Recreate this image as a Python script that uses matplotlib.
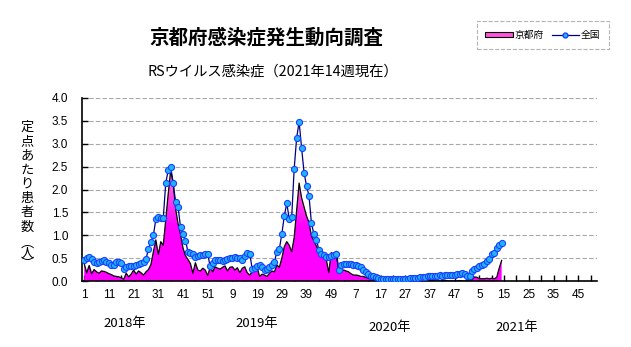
import matplotlib
matplotlib.use('Agg')
import matplotlib.pyplot as plt
import numpy as np
from matplotlib import font_manager
from matplotlib.patches import Patch
from matplotlib.lines import Line2D
from matplotlib.colors import LinearSegmentedColormap

plt.rcParams['font.family'] = ['Noto Sans CJK JP', 'DejaVu Sans']

# narrow font for the numbers if we have one
names = {f.name for f in font_manager.fontManager.ttflist}
num_font = 'Liberation Sans Narrow' if 'Liberation Sans Narrow' in names else 'Liberation Sans'

# weekly values per sentinel (定点あたり), 2018 wk1 .. 2021 wk14
national_2018 = [0.46, 0.50, 0.52, 0.47, 0.42, 0.39, 0.42, 0.44, 0.46, 0.42,
                 0.39, 0.36, 0.35, 0.41, 0.42, 0.40, 0.26, 0.30, 0.32, 0.33,
                 0.33, 0.35, 0.37, 0.39, 0.42, 0.47, 0.71, 0.85, 1.00, 1.35,
                 1.40, 1.38, 1.37, 2.14, 2.42, 2.50, 2.14, 1.73, 1.62, 1.17,
                 1.02, 0.88, 0.64, 0.62, 0.60, 0.52, 0.55, 0.57, 0.57, 0.58,
                 0.58, 0.32]
national_2019 = [0.40, 0.45, 0.45, 0.45, 0.44, 0.46, 0.48, 0.50, 0.51, 0.52,
                 0.51, 0.50, 0.45, 0.55, 0.62, 0.60, 0.27, 0.29, 0.33, 0.34,
                 0.30, 0.25, 0.27, 0.31, 0.36, 0.42, 0.64, 0.70, 1.03, 1.42,
                 1.70, 1.36, 1.40, 2.45, 3.13, 3.48, 2.91, 2.37, 2.08, 1.86,
                 1.26, 1.02, 0.90, 0.68, 0.60, 0.57, 0.53, 0.53, 0.55, 0.57,
                 0.58, 0.24]
national_2020 = [0.35, 0.37, 0.38, 0.38, 0.37, 0.36, 0.35, 0.33, 0.30, 0.25,
                 0.20, 0.15, 0.12, 0.10, 0.08, 0.06, 0.04, 0.05, 0.04, 0.04,
                 0.04, 0.04, 0.05, 0.04, 0.05, 0.05, 0.05, 0.05, 0.06, 0.06,
                 0.07, 0.07, 0.08, 0.08, 0.09, 0.10, 0.10, 0.11, 0.10, 0.12,
                 0.13, 0.12, 0.13, 0.13, 0.14, 0.13, 0.14, 0.15, 0.15, 0.17,
                 0.16, 0.10]
national_2021 = [0.12, 0.22, 0.26, 0.29, 0.32, 0.35, 0.38, 0.44, 0.48, 0.58,
                 0.62, 0.72, 0.78, 0.84]

kyoto_2018 = [0.38, 0.18, 0.34, 0.16, 0.25, 0.20, 0.17, 0.22, 0.21, 0.19,
              0.16, 0.14, 0.11, 0.10, 0.09, 0.07, 0.04, 0.17, 0.09, 0.15,
              0.24, 0.15, 0.22, 0.18, 0.13, 0.20, 0.25, 0.36, 0.64, 0.90,
              0.58, 0.86, 0.78, 1.35, 1.90, 2.42, 2.15, 1.58, 1.25, 1.02,
              0.72, 0.55, 0.47, 0.38, 0.17, 0.40, 0.24, 0.22, 0.28, 0.24,
              0.12, 0.30]
kyoto_2019 = [0.20, 0.31, 0.28, 0.26, 0.30, 0.33, 0.22, 0.30, 0.31, 0.24,
              0.29, 0.18, 0.28, 0.31, 0.18, 0.13, 0.20, 0.24, 0.30, 0.10,
              0.15, 0.13, 0.10, 0.17, 0.22, 0.20, 0.35, 0.30, 0.50, 0.75,
              0.86, 0.78, 0.64, 0.95, 1.55, 2.14, 1.82, 1.62, 1.42, 1.28,
              0.98, 0.88, 0.76, 0.68, 0.58, 0.53, 0.48, 0.18, 0.62, 0.58,
              0.65, 0.28]
kyoto_2020 = [0.20, 0.24, 0.22, 0.20, 0.16, 0.13, 0.13, 0.12, 0.10, 0.10,
              0.08, 0.06, 0.04, 0.03, 0.01, 0.00, 0.00, 0.00, 0.00, 0.00,
              0.00, 0.00, 0.00, 0.00, 0.00, 0.00, 0.00, 0.00, 0.00, 0.00,
              0.00, 0.00, 0.00, 0.00, 0.00, 0.00, 0.00, 0.01, 0.00, 0.00,
              0.00, 0.00, 0.02, 0.00, 0.00, 0.00, 0.00, 0.00, 0.01, 0.00,
              0.00, 0.00]
kyoto_2021 = [0.00, 0.03, 0.09, 0.08, 0.05, 0.05, 0.05, 0.06, 0.05, 0.06,
              0.05, 0.08, 0.28, 0.45]

national = national_2018 + national_2019 + national_2020 + national_2021
kyoto = kyoto_2018 + kyoto_2019 + kyoto_2020 + kyoto_2021
weeks = np.arange(len(national))

tick_labels = ['1', '11', '21', '31', '41', '51', '9', '19', '29', '39', '49',
               '7', '17', '27', '37', '47', '5', '15', '25', '35', '45']
years = ['2018年', '2019年', '2020年', '2021年']

W, H = 631, 347
fig = plt.figure(figsize=(W / 100, H / 100), dpi=100)
ax = fig.add_axes([82 / W, 1 - 281 / H, (597 - 82) / W, (281 - 98) / H])

# pink gradient area for Kyoto
poly = ax.fill_between(weeks, 0, kyoto, facecolor='none', edgecolor='none')
cmap = LinearSegmentedColormap.from_list('kp', ['#ff00ff', '#ff00ff', '#ff7fd0'])
grad = np.linspace(0, 1, 256).reshape(-1, 1)
im = ax.imshow(grad, extent=[weeks[0], weeks[-1], 0, 2.4], origin='lower',
               aspect='auto', cmap=cmap, zorder=2)
im.set_clip_path(poly.get_paths()[0], transform=ax.transData)
ax.plot(weeks, kyoto, color='black', linewidth=0.9, zorder=3)

ax.plot(weeks, national, color='#000080', linewidth=0.9, marker='o', markersize=4.4,
        markerfacecolor='#1fb4ff', markeredgecolor='#1a40ff', markeredgewidth=0.8, zorder=4)

ax.set_xlim(-0.9, 207.6)
ax.set_ylim(0, 4)

ax.set_xticks(np.arange(0, 201, 10))
ax.set_xticklabels(tick_labels, fontsize=8.5, family=num_font)
ax.set_xticks(np.arange(5, 206, 10), minor=True)
ax.set_yticks(np.arange(0, 4.01, 0.5))
ax.set_yticklabels(['%.1f' % v for v in np.arange(0, 4.01, 0.5)], fontsize=8.5, family=num_font)
ax.tick_params(axis='both', which='both', direction='in', length=4, width=1, color='black')
ax.tick_params(axis='x', pad=6)
ax.tick_params(axis='y', pad=10)

ax.yaxis.grid(True, linestyle=(0, (4, 2)), color='#a8a8a8', linewidth=0.8)
ax.set_axisbelow(True)
ax.spines['top'].set_visible(False)
ax.spines['right'].set_visible(False)
ax.spines['left'].set_linewidth(1.2)
ax.spines['bottom'].set_linewidth(1.2)

# titles
fig.text(266 / W, 1 - 38 / H, '京都府感染症発生動向調査', ha='center', va='center',
         fontsize=14, fontweight='bold')
fig.text(273 / W, 1 - 72 / H, 'RSウイルス感染症（2021年14週現在）', ha='center', va='center',
         fontsize=10.3)

# vertical y label, one character per line
ylab_main = '\n'.join(['定', '点', 'あ', 'た', 'り', '患', '者', '数'])
ylab_unit = '\n'.join(['︵', '人', '︶'])
fig.text(27 / W, 1 - 121 / H, ylab_main, ha='center', va='top', fontsize=9.5, linespacing=1.12)
fig.text(27 / W, 1 - 237 / H, ylab_unit, ha='center', va='top', fontsize=9.5, linespacing=0.75)

# years under the axis
for label, xx, yy in zip(years, [125, 257, 390, 517], [324, 324, 327, 327]):
    fig.text(xx / W, 1 - yy / H, label, ha='center', va='center', fontsize=9.5)

handles = [Patch(facecolor='#ff55dd', edgecolor='black', linewidth=0.8),
           Line2D([0], [0], color='#000080', linewidth=0.9, marker='o', markersize=3.5,
                  markerfacecolor='#1fb4ff', markeredgecolor='#1a40ff')]
leg = fig.legend(handles, ['京都府', '全国'], loc='upper right', bbox_to_anchor=(609 / W, 1 - 21 / H),
                 ncol=2, fontsize=7, frameon=True, fancybox=False, handlelength=2.8,
                 handleheight=0.5, columnspacing=0.8, handletextpad=0.2, borderpad=0.9,
                 borderaxespad=0)
leg.get_frame().set_edgecolor('#a0a0a0')
leg.get_frame().set_linestyle('--')
leg.get_frame().set_linewidth(0.8)

fig.savefig('out.png', dpi=100)
